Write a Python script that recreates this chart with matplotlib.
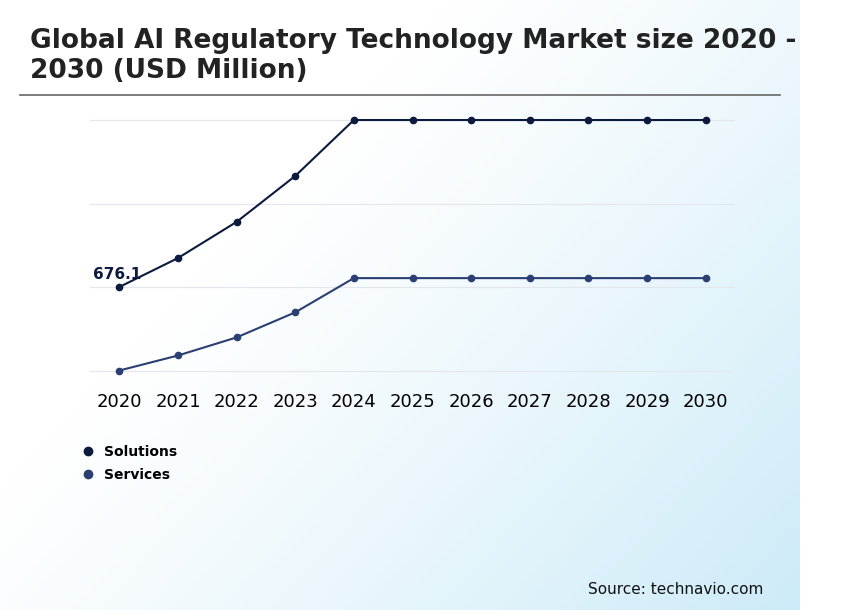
import numpy as np
import matplotlib.pyplot as plt
from matplotlib.colors import LinearSegmentedColormap
from matplotlib.lines import Line2D

years = [2020, 2021, 2022, 2023, 2024, 2025, 2026, 2027, 2028, 2029, 2030]
solutions = [676.1, 780, 910, 1075, 1276, 1276, 1276, 1276, 1276, 1276, 1276]
services = [376, 430, 495, 585, 708, 708, 708, 708, 708, 708, 708]
grid_values = [376.1, 676.1, 976.1, 1276.1]

W, H = 844, 610
fig = plt.figure(figsize=(W / 100, H / 100), dpi=100)

# background gradient (white top-left, pale blue bottom-right)
bg = fig.add_axes([0, 0, 800 / W, 1], zorder=-10)
xx, yy = np.meshgrid(np.linspace(0, 1, 200), np.linspace(0, 1, 200))
grad = np.clip((xx * 1.0 + yy * 0.7 - 0.55) / 1.15, 0, 1) ** 1.2
cmap = LinearSegmentedColormap.from_list("bg", ["#ffffff", "#cdebf8"])
bg.imshow(grad, cmap=cmap, aspect="auto", extent=[0, 1, 1, 0])
bg.axis("off")


def val(ypx):
    return 676.1 + (287 - ypx) * 300 / 83.5


top, bottom = 110, 376
ax = fig.add_axes([90 / W, 1 - bottom / H, (735 - 90) / W, (bottom - top) / H])
ax.patch.set_alpha(0)
ax.set_xlim(2019.5, 2030.5)
ax.set_ylim(val(bottom), val(top))
for g in grid_values:
    ax.axhline(g, color="#e3e6ea", lw=0.8, zorder=0)
for s in ax.spines.values():
    s.set_visible(False)
ax.set_yticks([])
ax.set_xticks(years)
ax.tick_params(axis="x", length=0, labelsize=13, pad=12)

ax.plot(years, solutions, color="#0b1a3d", lw=1.5, marker="o", ms=4.5)
ax.plot(years, services, color="#2b3f72", lw=1.5, marker="o", ms=4.5)
ax.annotate("676.1", (2020, solutions[0]), xytext=(-19, 6), textcoords="offset points",
            fontsize=11, fontweight="bold", color="#0b1a3d")

fig.text(30 / W, 1 - 56 / H, "Global AI Regulatory Technology Market size 2020 -\n2030 (USD Million)",
         fontsize=19, fontweight="bold", color="#222222", va="center", linespacing=1.2)
fig.add_artist(Line2D([20 / W, 780 / W], [1 - 95 / H] * 2, color="#666666", lw=1.2))

handles = [Line2D([], [], ls="none", marker="o", ms=6, color="#0b1a3d"),
           Line2D([], [], ls="none", marker="o", ms=6, color="#2b3f72")]
fig.legend(handles, ["Solutions", "Services"], loc="upper left", bbox_to_anchor=(62 / W, 1 - 432 / H),
           frameon=False, handletextpad=0.1, prop={"weight": "bold", "size": 10}, labelspacing=0.7)

fig.text(763 / W, 1 - 589 / H, "Source: technavio.com", fontsize=11, ha="right", va="center", color="#111111")

fig.savefig("out.png", dpi=100)
